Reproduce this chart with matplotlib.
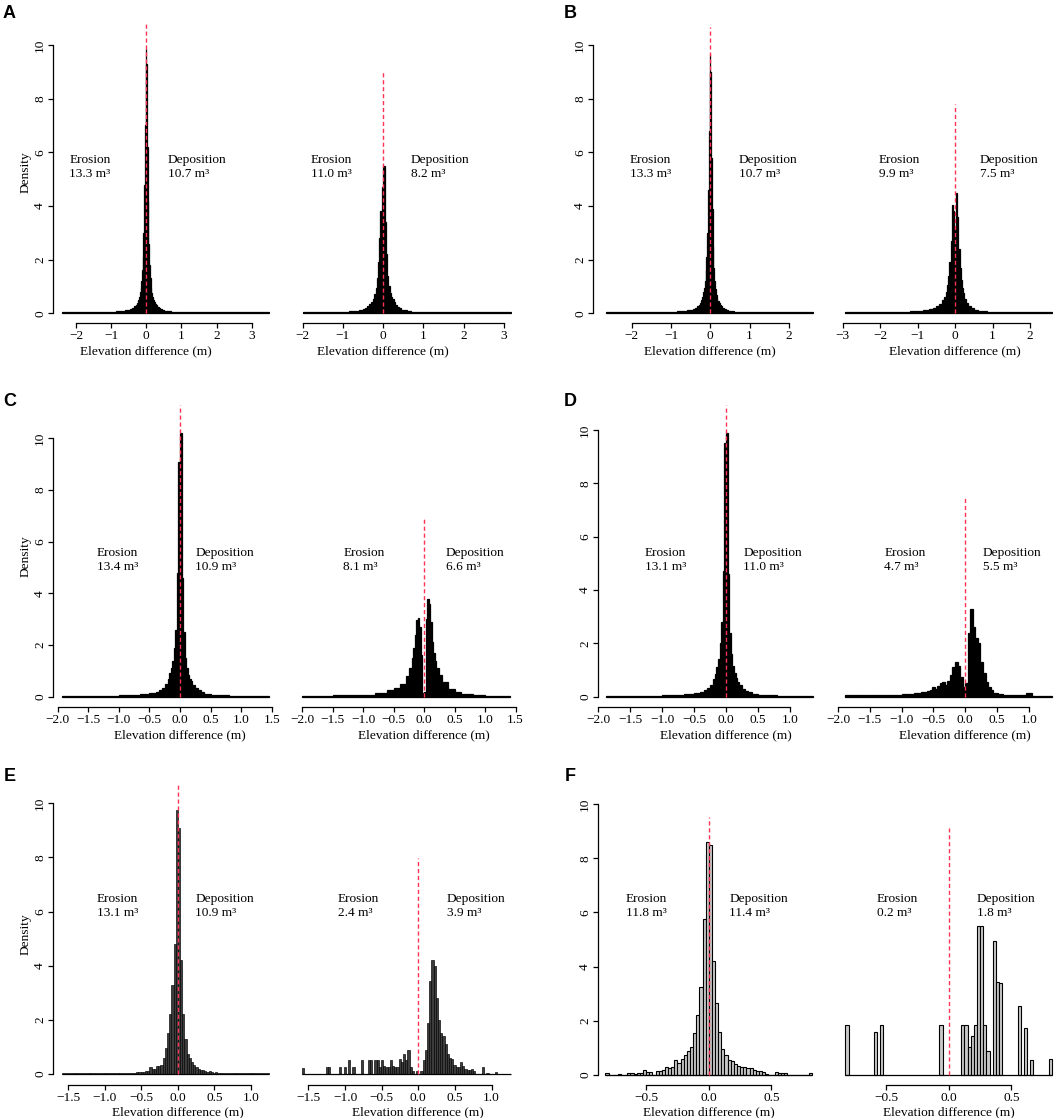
import numpy as np
import matplotlib
matplotlib.use("Agg")
import matplotlib.pyplot as plt
from matplotlib.transforms import blended_transform_factory, ScaledTranslation

W, H, DPI = 1062, 1118, 100

plt.rcParams['font.family'] = ['Liberation Serif', 'DejaVu Serif']
plt.rcParams['font.size'] = 9.6
plt.rcParams['axes.unicode_minus'] = True

RED = '#ff3355'

# ---------------- data ----------------
panel_letters = ['A', 'B', 'C', 'D', 'E', 'F']
erosion_left = [13.3, 13.3, 13.4, 13.1, 13.1, 11.8]
deposition_left = [10.7, 10.7, 10.9, 11.0, 10.9, 11.4]
erosion_right = [11.0, 9.9, 8.1, 4.7, 2.4, 0.2]
deposition_right = [8.2, 7.5, 6.6, 5.5, 3.9, 1.8]

# top of the dashed zero line (density units)
red_top_left = [10.86, 10.68, 11.27, 10.94, 10.76, 9.51]
red_top_right = [9.07, 7.8, 6.9, 7.53, 7.97, 9.1]

y_ticks = [0, 2, 4, 6, 8, 10]
x_ticks_a = [-2, -1, 0, 1, 2, 3]
x_ticks_b_left = [-2, -1, 0, 1, 2]
x_ticks_b_right = [-3, -2, -1, 0, 1, 2]
x_ticks_c = [-2.0, -1.5, -1.0, -0.5, 0.0, 0.5, 1.0, 1.5]
x_ticks_d = [-2.0, -1.5, -1.0, -0.5, 0.0, 0.5, 1.0]
x_ticks_e = [-1.5, -1.0, -0.5, 0.0, 0.5, 1.0]
x_ticks_f = [-0.5, 0.0, 0.5]

# histograms (bin edges / densities)
a_left_edges = [-2.41, -2.0, -1.5, -1.2, -1.0, -0.85, -0.7, -0.6, -0.5, -0.45, -0.4, -0.35, -0.3, -0.27,
                -0.24, -0.21, -0.18, -0.16, -0.14, -0.12, -0.1, -0.08, -0.06, -0.04, -0.02, 0.0,
                0.02, 0.04, 0.06, 0.08, 0.1, 0.12, 0.14, 0.16, 0.18, 0.21, 0.24, 0.27, 0.3, 0.35, 0.4,
                0.45, 0.5, 0.6, 0.7, 0.85, 1.0, 1.2, 1.5, 2.0, 2.5, 3.0, 3.5]
a_left_heights = [0.03, 0.035, 0.04, 0.05, 0.06, 0.07, 0.09, 0.11, 0.14, 0.17, 0.21, 0.26, 0.32, 0.4,
                  0.5, 0.62, 0.78, 0.95, 1.2, 1.6, 2.1, 3.0, 4.8, 7.0, 9.85,
                  9.3, 6.2, 4.2, 2.6, 1.8, 1.3, 0.95, 0.75, 0.6, 0.5, 0.42, 0.36, 0.3, 0.24, 0.19,
                  0.15, 0.12, 0.09, 0.07, 0.06, 0.05, 0.045, 0.04, 0.035, 0.03, 0.03, 0.03]

a_right_edges = [-2.0, -1.5, -1.2, -1.0, -0.85, -0.7, -0.6, -0.5, -0.45, -0.4, -0.35, -0.3, -0.26,
                 -0.22, -0.19, -0.16, -0.13, -0.1, -0.07, -0.04, 0.0,
                 0.04, 0.07, 0.1, 0.13, 0.16, 0.19, 0.22, 0.26, 0.3, 0.35, 0.4, 0.45, 0.5, 0.6, 0.7,
                 0.85, 1.0, 1.2, 1.5, 2.0, 2.5, 3.17]
a_right_heights = [0.03, 0.04, 0.05, 0.06, 0.08, 0.1, 0.13, 0.17, 0.21, 0.26, 0.33, 0.42, 0.55, 0.72,
                   0.95, 1.3, 1.9, 2.8, 3.8, 4.7,
                   5.5, 3.4, 2.2, 1.4, 1.0, 0.75, 0.62, 0.52, 0.42, 0.32, 0.24, 0.18, 0.14, 0.11,
                   0.08, 0.06, 0.05, 0.04, 0.035, 0.03, 0.03, 0.03]

b_left_edges = [-2.65, -2.0, -1.5, -1.2, -1.0, -0.85, -0.7, -0.6, -0.5, -0.45, -0.4, -0.35, -0.3, -0.27,
                -0.24, -0.21, -0.18, -0.16, -0.14, -0.12, -0.1, -0.08, -0.06, -0.04, -0.02, 0.0,
                0.02, 0.04, 0.06, 0.08, 0.1, 0.12, 0.14, 0.16, 0.18, 0.21, 0.24, 0.27, 0.3, 0.35, 0.4,
                0.45, 0.5, 0.6, 0.7, 0.85, 1.0, 1.2, 1.5, 2.0, 2.6]
b_left_heights = [0.03, 0.035, 0.04, 0.05, 0.06, 0.07, 0.09, 0.11, 0.14, 0.17, 0.21, 0.26, 0.32, 0.4,
                  0.5, 0.62, 0.78, 0.95, 1.2, 1.6, 2.1, 3.0, 4.6, 6.8, 9.65,
                  9.0, 5.8, 3.9, 2.5, 1.7, 1.2, 0.9, 0.7, 0.55, 0.45, 0.38, 0.32, 0.27, 0.21, 0.16,
                  0.13, 0.1, 0.08, 0.06, 0.05, 0.045, 0.04, 0.035, 0.03, 0.03]

b_right_edges = [-2.94, -2.4, -2.0, -1.5, -1.2, -1.0, -0.85, -0.7, -0.6, -0.5, -0.42, -0.35, -0.3,
                 -0.25, -0.21, -0.18, -0.15, -0.12, -0.09, -0.06, -0.03, 0.0,
                 0.03, 0.06, 0.09, 0.12, 0.15, 0.18, 0.21, 0.25, 0.3, 0.35, 0.42, 0.5, 0.6, 0.7, 0.85,
                 1.0, 1.2, 1.5, 2.0, 2.58]
b_right_heights = [0.03, 0.03, 0.04, 0.05, 0.07, 0.09, 0.12, 0.16, 0.21, 0.28, 0.36, 0.48, 0.62, 0.8,
                   1.05, 1.4, 1.9, 2.7, 4.05, 3.8, 2.8,
                   3.2, 4.5, 3.6, 2.4, 1.7, 1.25, 0.95, 0.75, 0.55, 0.4, 0.28, 0.2, 0.14, 0.1, 0.07,
                   0.05, 0.04, 0.035, 0.03, 0.03]

c_left_edges = [-1.93, -1.5, -1.2, -1.0, -0.8, -0.65, -0.5, -0.4, -0.35, -0.3, -0.25, -0.2, -0.175,
                -0.15, -0.125, -0.1, -0.075, -0.05, -0.025, 0.0,
                0.025, 0.05, 0.075, 0.1, 0.125, 0.15, 0.175, 0.2, 0.25, 0.3, 0.35, 0.4, 0.5, 0.65,
                0.8, 1.0, 1.2, 1.46]
c_left_heights = [0.03, 0.035, 0.04, 0.05, 0.07, 0.1, 0.15, 0.2, 0.26, 0.35, 0.5, 0.7, 0.9, 1.1, 1.4,
                  1.9, 2.6, 4.8, 9.1,
                  10.2, 4.6, 2.5, 1.5, 1.1, 0.85, 0.7, 0.6, 0.45, 0.32, 0.24, 0.18, 0.12, 0.08, 0.06,
                  0.04, 0.035, 0.03]

c_right_edges = [-2.0, -1.5, -1.0, -0.8, -0.6, -0.5, -0.4, -0.3, -0.25, -0.2, -0.175, -0.15, -0.125,
                 -0.1, -0.075, -0.05, -0.025, 0.0, 0.025, 0.05, 0.075, 0.1, 0.125, 0.15, 0.175, 0.2,
                 0.25, 0.3, 0.4, 0.5, 0.6, 0.8, 1.0, 1.41]
c_right_heights = [0.03, 0.05, 0.08, 0.15, 0.25, 0.35, 0.5, 0.8, 1.1, 1.5, 1.9, 2.4, 2.95, 3.05, 2.7,
                   1.6, 0.15, 0.2, 3.0, 3.8, 3.6, 2.9, 2.1, 1.7, 1.4, 1.1, 0.85, 0.55, 0.3, 0.2, 0.1,
                   0.06, 0.03]

d_left_edges = [-1.88, -1.5, -1.2, -1.0, -0.8, -0.65, -0.5, -0.4, -0.35, -0.3, -0.25, -0.2, -0.175,
                -0.15, -0.125, -0.1, -0.075, -0.05, -0.025, 0.0,
                0.025, 0.05, 0.075, 0.1, 0.125, 0.15, 0.175, 0.2, 0.25, 0.3, 0.35, 0.4, 0.5, 0.65,
                0.8, 1.0, 1.36]
d_left_heights = [0.03, 0.035, 0.04, 0.05, 0.07, 0.1, 0.14, 0.19, 0.25, 0.33, 0.45, 0.65, 0.85, 1.1,
                  1.4, 2.0, 2.8, 4.7, 9.5,
                  9.9, 4.6, 2.4, 1.6, 1.15, 0.9, 0.7, 0.55, 0.42, 0.3, 0.22, 0.16, 0.1, 0.07, 0.05,
                  0.04, 0.03]

d_right_edges = [-1.89, -1.6, -1.4, -1.2, -1.0, -0.8, -0.7,
                 -0.6, -0.56, -0.52, -0.48, -0.44, -0.4, -0.36, -0.32, -0.28, -0.24, -0.2, -0.16,
                 -0.12, -0.08, -0.04, 0.0, 0.04, 0.08, 0.12, 0.16, 0.2, 0.24, 0.28, 0.32, 0.36, 0.4,
                 0.44, 0.48, 0.52, 0.56, 0.6, 0.7, 0.8, 0.95, 1.05, 1.36]
d_right_heights = [0.05, 0.06, 0.07, 0.08, 0.1, 0.13, 0.17,
                   0.2, 0.25, 0.35, 0.3, 0.4, 0.5, 0.55, 0.45, 0.6, 0.8, 1.1, 1.3, 1.15, 0.75, 0.35,
                   0.5, 2.4, 3.3, 2.6, 2.2, 2.0, 1.3, 0.9, 0.55, 0.35, 0.25, 0.15, 0.15, 0.1, 0.1,
                   0.07, 0.06, 0.05, 0.12, 0.04]

e_left_edges = ([-1.59, -1.4, -1.2, -1.0, -0.8]
                + list(np.round(np.linspace(-0.6, 0.6, 41), 2))
                + [0.8, 1.0, 1.25])
e_left_heights = [0.03, 0.03, 0.04, 0.04, 0.05,
                  0.05, 0.06, 0.06, 0.07, 0.08, 0.1, 0.12, 0.25, 0.18, 0.2, 0.3, 0.3, 0.35, 0.6, 0.95,
                  1.5, 2.2, 3.3, 4.8, 9.75,
                  9.1, 4.2, 2.2, 1.3, 0.75, 0.6, 0.45, 0.35, 0.25, 0.2, 0.15, 0.15, 0.12, 0.08, 0.1,
                  0.06, 0.05, 0.06, 0.04, 0.04,
                  0.04, 0.03, 0.03]

e_right_range = (-1.59, 1.26)
e_right_bin = 0.03
e_right_lefts = [-1.59, -1.26, -1.23, -1.08, -1.02, -0.96, -0.9, -0.78, -0.69, -0.66, -0.6, -0.57,
                 -0.54, -0.51, -0.48, -0.45, -0.42, -0.39, -0.36, -0.33, -0.3, -0.27, -0.24, -0.21,
                 -0.18, -0.15, -0.12, -0.09, -0.03, 0.03, 0.06, 0.09, 0.12, 0.15, 0.18, 0.21, 0.24,
                 0.27, 0.3, 0.33, 0.36, 0.39, 0.42, 0.45, 0.48, 0.51, 0.54, 0.57, 0.6, 0.63, 0.66,
                 0.69, 0.72, 0.75, 0.87, 0.93, 1.05]
e_right_heights = [0.22, 0.25, 0.25, 0.25, 0.25, 0.5, 0.25, 0.5, 0.5, 0.5, 0.5, 0.5, 0.25, 0.5, 0.3,
                   0.25, 0.25, 0.5, 0.3, 0.25, 0.25, 0.55, 0.45, 0.75, 0.5, 0.9, 0.25, 0.1, 0.1, 0.1,
                   0.5, 0.9, 1.9, 3.45, 4.2, 4.0, 2.8, 2.0, 1.5, 1.4, 1.1, 0.75, 0.6, 0.55, 0.35, 0.25,
                   0.25, 0.45, 0.3, 0.2, 0.15, 0.15, 0.2, 0.1, 0.25, 0.05, 0.08]

f_bin = 0.025
f_left_start = -0.825
f_left_heights = [0.08, 0, 0, 0, 0.05, 0, 0, 0.06, 0.06, 0.05, 0.08, 0.08, 0.18, 0.1, 0.1, 0, 0.15,
                  0.15, 0.2, 0.3, 0.25, 0.3, 0.55, 0.45, 0.6, 0.75, 0.9, 1.05, 1.55, 2.2, 3.25, 5.75,
                  8.6, 8.5, 4.2, 2.65, 1.6, 0.95, 0.75, 0.55, 0.5, 0.4, 0.35, 0.3, 0.3, 0.25, 0.25,
                  0.2, 0.15, 0.15, 0.1, 0.05, 0, 0, 0.1, 0.08, 0.08, 0.08, 0, 0, 0, 0, 0, 0, 0, 0.08]

f_right_range = (-0.825, 0.825)
f_right_lefts = [-0.825, -0.6, -0.55, -0.075, 0.1, 0.125, 0.15, 0.175, 0.2, 0.225, 0.25, 0.275, 0.3,
                 0.35, 0.375, 0.4, 0.55, 0.6, 0.65, 0.8]
f_right_heights = [1.85, 1.6, 1.85, 1.85, 1.85, 1.85, 1.05, 1.45, 1.85, 5.5, 5.5, 1.85, 0.9, 4.95,
                   3.45, 3.4, 2.55, 1.75, 0.55, 0.6]


def dense(edges, heights):
    e = np.asarray(edges, float)
    return dict(lefts=e[:-1], widths=np.diff(e), heights=np.asarray(heights, float), lo=e[0], hi=e[-1])


def sparse(lefts, heights, width, lo, hi):
    return dict(lefts=np.asarray(lefts, float), widths=np.full(len(lefts), width),
                heights=np.asarray(heights, float), lo=lo, hi=hi)


f_left_edges = f_left_start + f_bin * np.arange(len(f_left_heights) + 1)

hists = {
    ('A', 'L'): dense(a_left_edges, a_left_heights),
    ('A', 'R'): dense(a_right_edges, a_right_heights),
    ('B', 'L'): dense(b_left_edges, b_left_heights),
    ('B', 'R'): dense(b_right_edges, b_right_heights),
    ('C', 'L'): dense(c_left_edges, c_left_heights),
    ('C', 'R'): dense(c_right_edges, c_right_heights),
    ('D', 'L'): dense(d_left_edges, d_left_heights),
    ('D', 'R'): dense(d_right_edges, d_right_heights),
    ('E', 'L'): dense(e_left_edges, e_left_heights),
    ('E', 'R'): sparse(e_right_lefts, e_right_heights, e_right_bin, *e_right_range),
    ('F', 'L'): dense(f_left_edges, f_left_heights),
    ('F', 'R'): sparse(f_right_lefts, f_right_heights, f_bin, *f_right_range),
}

x_ticks = {
    ('A', 'L'): x_ticks_a, ('A', 'R'): x_ticks_a,
    ('B', 'L'): x_ticks_b_left, ('B', 'R'): x_ticks_b_right,
    ('C', 'L'): x_ticks_c, ('C', 'R'): x_ticks_c,
    ('D', 'L'): x_ticks_d, ('D', 'R'): x_ticks_d,
    ('E', 'L'): x_ticks_e, ('E', 'R'): x_ticks_e,
    ('F', 'L'): x_ticks_f, ('F', 'R'): x_ticks_f,
}
tick_decimals = {'A': 0, 'B': 0, 'C': 1, 'D': 1, 'E': 1, 'F': 1}

# bar styles: (face colour, edge width)
styles = {'A': ('black', 0.9), 'B': ('black', 0.9), 'C': ('black', 0.9), 'D': ('black', 0.9),
          'E': ('#3c3c3c', 0.45), 'F': ('#c8c8c8', 0.8)}

# ---------------- layout (pixels) ----------------
# baseline, px per density unit, x-axis line, plot top, y-axis spine
panel_y = {
    'A': (313.3, 26.83, 323.3, 21.7, 53.3),
    'B': (313.3, 26.83, 323.3, 21.7, 593.3),
    'C': (696.7, 25.84, 707.3, 405.0, 53.3),
    'D': (696.7, 26.67, 707.3, 405.0, 598.3),
    'E': (1074.0, 27.07, 1085.0, 782.7, 53.3),
    'F': (1075.0, 27.1, 1085.0, 790.0, 598.3),
}
# pixel of x=0, px per metre
x_layout = {
    ('A', 'L'): (146.3, 35.13), ('A', 'R'): (383.2, 40.27),
    ('B', 'L'): (710.3, 39.33), ('B', 'R'): (955.1, 37.47),
    ('C', 'L'): (180.0, 61.14), ('C', 'R'): (424.0, 61.0),
    ('D', 'L'): (726.0, 63.9), ('D', 'R'): (965.2, 63.6),
    ('E', 'L'): (177.9, 73.07), ('E', 'R'): (418.3, 73.33),
    ('F', 'L'): (708.8, 125.3), ('F', 'R'): (948.8, 125.3),
}
text_x = {
    'A': (69.3, 167.7, 310.7, 410.7), 'B': (630, 739, 879, 980),
    'C': (96.7, 195.3, 343.3, 445.7), 'D': (645, 743.3, 884.3, 982.7),
    'E': (96.7, 195.3, 337.7, 446.7), 'F': (625.7, 729.3, 876.7, 976.7),
}
text_y = {'A': 167, 'B': 167, 'C': 560, 'D': 560, 'E': 906, 'F': 906}
letter_pos = {'A': (3, 5), 'B': (564, 5), 'C': (3, 393), 'D': (564, 393), 'E': (4, 768), 'F': (565, 768)}

fig = plt.figure(figsize=(W / DPI, H / DPI), dpi=DPI)
px = 72.0 / DPI  # points per pixel


def fmt_tick(t, dec):
    s = f'{t:.{dec}f}'
    if float(s) == 0:
        s = s.lstrip('-')
    return s.replace('-', '\u2212')


def draw(panel, side, red_top):
    key = (panel, side)
    h = hists[key]
    ticks = x_ticks[key]
    x0, ppu = x_layout[key]
    base, ppy, axis_px, top_px, spine_px = panel_y[panel]
    spine_x = (spine_px - x0) / ppu
    lo = min(h['lo'], ticks[0]) - 0.03
    hi = max(h['hi'], ticks[-1]) + 0.03
    if side == 'L':
        lo = min(lo, spine_x - 0.03)
    left, right = x0 + lo * ppu, x0 + hi * ppu
    ax = fig.add_axes([left / W, 1 - axis_px / H, (right - left) / W, (axis_px - top_px) / H])
    ax.patch.set_visible(False)
    ax.set_xlim(lo, hi)
    ax.set_ylim(-(axis_px - base) / ppy, (base - top_px) / ppy)

    face, lw = styles[panel]
    ax.bar(h['lefts'], h['heights'], width=h['widths'], align='edge', color=face,
           edgecolor='black', linewidth=lw, zorder=2)
    ax.plot([h['lo'], h['hi']], [0, 0], color='black', lw=1.4 if face == 'black' else 0.9, zorder=3,
            solid_capstyle='butt')
    ax.plot([0, 0], [0, red_top], color=RED, lw=1.0, ls=(0, (3, 2)), zorder=5, clip_on=False)

    for s in ('top', 'right'):
        ax.spines[s].set_visible(False)
    ax.spines['bottom'].set_bounds(ticks[0], ticks[-1])
    ax.spines['bottom'].set_linewidth(0.9)
    ax.set_xticks(ticks, [fmt_tick(t, tick_decimals[panel]) for t in ticks])
    ax.tick_params(axis='x', length=5 * px, width=0.9, pad=1.2, labelsize=9.6)

    tr = blended_transform_factory(ax.transData, ax.transAxes) + \
        ScaledTranslation(0, -27.5 / DPI, fig.dpi_scale_trans)
    ax.text(0, 0, 'Elevation difference (m)', transform=tr, ha='center', va='center', fontsize=9.6)

    if side == 'L':
        ax.spines['left'].set_position(('data', spine_x))
        ax.spines['left'].set_bounds(0, 10)
        ax.spines['left'].set_linewidth(0.9)
        ax.set_yticks(y_ticks, [str(v) for v in y_ticks])
        ax.tick_params(axis='y', length=5 * px, width=0.9, pad=1.6, labelsize=9.6, labelrotation=90)
        for lab in ax.get_yticklabels():
            lab.set_va('center')
        if panel in ('A', 'C', 'E'):
            ax.set_ylabel('Density', fontsize=9.6, labelpad=2)
    else:
        ax.spines['left'].set_visible(False)
        ax.set_yticks([])
    return ax


for i, p in enumerate(panel_letters):
    draw(p, 'L', red_top_left[i])
    draw(p, 'R', red_top_right[i])

    ex_l, dx_l, ex_r, dx_r = text_x[p]
    ty = 1 - text_y[p] / H
    fig.text(ex_l / W, ty, f'Erosion\n{erosion_left[i]:.1f} m\u00b3', ha='left', va='center', linespacing=1.2)
    fig.text(dx_l / W, ty, f'Deposition\n{deposition_left[i]:.1f} m\u00b3', ha='left', va='center', linespacing=1.2)
    fig.text(ex_r / W, ty, f'Erosion\n{erosion_right[i]:.1f} m\u00b3', ha='left', va='center', linespacing=1.2)
    fig.text(dx_r / W, ty, f'Deposition\n{deposition_right[i]:.1f} m\u00b3', ha='left', va='center', linespacing=1.2)

    lx, ly = letter_pos[p]
    fig.text(lx / W, 1 - ly / H, p, ha='left', va='top', fontsize=13, fontweight='bold',
             family=['Liberation Sans', 'DejaVu Sans'])

fig.savefig('out.png', dpi=DPI)
